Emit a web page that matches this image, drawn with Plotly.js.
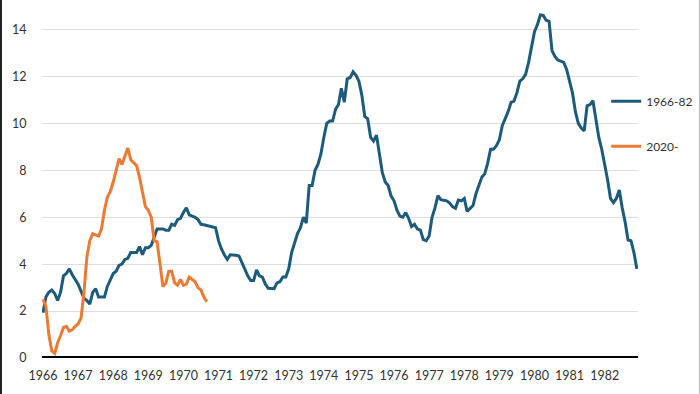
<!DOCTYPE html>
<html>
<head>
<meta charset="utf-8">
<script src="https://cdn.plot.ly/plotly-3.0.1.min.js"></script>
<style>
  html, body { margin: 0; padding: 0; background: #fff; }
  #wrap { position: relative; width: 700px; height: 394px; }
  #chart { width: 700px; height: 394px; }
  #frame { position: absolute; left: 0; top: 0; width: 700px; height: 394px; box-sizing: border-box;
           border-left: 2px solid #222; border-right: 1px solid #bdbdbd; pointer-events: none; }
</style>
</head>
<body>
<div id="wrap"><div id="chart"></div><div id="frame"></div></div>
<script>
// Year-on-year inflation, %, monthly. Both series are aligned on "months since start".
const seriesNames = ["1966-82", "2020-"];

const infl1966_82 = [
  1.93, 2.6, 2.8, 2.9, 2.75, 2.45, 2.8, 3.5, 3.6, 3.8, 3.55, 3.35,      // 1966
  3.15, 2.85, 2.55, 2.45, 2.3, 2.8, 2.95, 2.6, 2.6, 2.6, 3.05, 3.3,     // 1967
  3.6, 3.7, 3.95, 4.0, 4.2, 4.25, 4.5, 4.5, 4.5, 4.75, 4.4, 4.7,        // 1968
  4.7, 4.8, 5.2, 5.5, 5.5, 5.5, 5.45, 5.45, 5.7, 5.65, 5.9, 5.95,       // 1969
  6.2, 6.4, 6.1, 6.05, 6.0, 5.9, 5.7, 5.68, 5.65, 5.6, 5.58, 5.55,      // 1970
  5.0, 4.65, 4.4, 4.2, 4.4, 4.4, 4.38, 4.35, 4.05, 3.75, 3.5, 3.3,      // 1971
  3.3, 3.75, 3.5, 3.45, 3.15, 2.97, 2.95, 2.95, 3.2, 3.25, 3.45, 3.45,  // 1972
  3.8, 4.5, 4.9, 5.3, 5.55, 6.0, 5.75, 7.35, 7.35, 8.0, 8.25, 8.7,      // 1973
  9.4, 10.0, 10.1, 10.1, 10.6, 10.8, 11.5, 10.9, 11.9, 11.95, 12.2, 12.05, // 1974
  11.8, 11.2, 10.3, 10.2, 9.4, 9.25, 9.5, 8.6, 7.9, 7.5, 7.35, 6.9,     // 1975
  6.7, 6.3, 6.05, 6.0, 6.2, 5.95, 5.6, 5.7, 5.5, 5.45, 5.05, 5.0,       // 1976
  5.2, 6.0, 6.4, 6.92, 6.75, 6.72, 6.7, 6.6, 6.45, 6.38, 6.73, 6.7,     // 1977
  6.8, 6.25, 6.4, 6.5, 7.0, 7.4, 7.7, 7.85, 8.3, 8.9, 8.9, 9.05,        // 1978
  9.3, 9.9, 10.2, 10.5, 10.9, 10.95, 11.3, 11.8, 11.9, 12.1, 12.6, 13.2, // 1979
  13.9, 14.2, 14.62, 14.6, 14.4, 14.35, 13.1, 12.85, 12.7, 12.65, 12.6, 12.3, // 1980
  11.8, 11.3, 10.5, 10.0, 9.8, 9.68, 10.75, 10.8, 10.97, 10.1, 9.4, 8.9, // 1981
  8.3, 7.6, 6.8, 6.62, 6.8, 7.16, 6.4, 5.8, 5.03, 5.0, 4.5, 3.8         // 1982
];

const infl2020 = [
  2.5, 2.2, 1.0, 0.3, 0.2, 0.65, 0.95, 1.3, 1.35, 1.15, 1.2, 1.35,      // 2020
  1.45, 1.7, 2.8, 4.3, 5.0, 5.3, 5.25, 5.2, 5.5, 6.3, 6.85, 7.1,        // 2021
  7.5, 8.0, 8.5, 8.25, 8.6, 8.95, 8.45, 8.3, 8.2, 7.7, 7.1, 6.45,       // 2022
  6.3, 6.0, 5.0, 4.95, 4.0, 3.05, 3.2, 3.7, 3.7, 3.2, 3.1, 3.35,        // 2023
  3.1, 3.15, 3.45, 3.35, 3.25, 3.0, 2.9, 2.6, 2.4                      // 2024
];

const tickYears = ["1966","1967","1968","1969","1970","1971","1972","1973","1974",
                   "1975","1976","1977","1978","1979","1980","1981","1982"];

const monthIndex = n => Array.from({length: n}, (_, i) => i);
const tickVals = tickYears.map((_, i) => i * 12);

const blue = "#1d5b7c";
const orange = "#ec7a33";
const font = "Lato, 'Open Sans', sans-serif";

const traces = [
  { x: monthIndex(infl1966_82.length), y: infl1966_82, name: seriesNames[0], type: "scatter",
    mode: "lines", line: { color: blue, width: 3 }, legendgroup: "a" },
  { x: monthIndex(infl2020.length), y: infl2020, name: seriesNames[1], type: "scatter",
    mode: "lines", line: { color: orange, width: 3 }, legendgroup: "b" }
];

const layout = {
  width: 700, height: 394,
  margin: { l: 42, r: 62, t: 0, b: 36, autoexpand: false },
  paper_bgcolor: "#fff", plot_bgcolor: "#fff",
  font: { family: font, size: 13, color: "#333" },
  showlegend: true,
  legend: { x: 0.9466, xanchor: "left", y: 0.7576, yanchor: "top", traceorder: "grouped",
            tracegroupgap: 26, font: { family: font, size: 12, color: "#333" },
            bgcolor: "rgba(0,0,0,0)", itemwidth: 30 },
  xaxis: {
    range: [-0.34, 203.4], tickvals: tickVals, ticktext: tickYears,
    showgrid: false, zeroline: false, showline: false, automargin: false,
    ticks: "outside", ticklen: 6, tickcolor: "rgba(0,0,0,0)",
    tickfont: { family: font, size: 12.5, color: "#333" }, fixedrange: true
  },
  yaxis: {
    range: [0, 15.26], tickvals: [0, 2, 4, 6, 8, 10, 12, 14], automargin: false,
    showgrid: true, gridcolor: "#dedede", gridwidth: 1, zeroline: false,
    showline: false, ticks: "outside", ticklen: 12, tickcolor: "rgba(0,0,0,0)",
    tickfont: { family: font, size: 12.5, color: "#333" }, fixedrange: true
  },
  shapes: [
    { type: "line", xref: "paper", yref: "y", x0: 0, x1: 1, y0: 0, y1: 0,
      line: { color: "#000", width: 4 }, layer: "below" }
  ]
};

Plotly.newPlot("chart", traces, layout, { displayModeBar: false, staticPlot: true });
</script>
</body>
</html>
